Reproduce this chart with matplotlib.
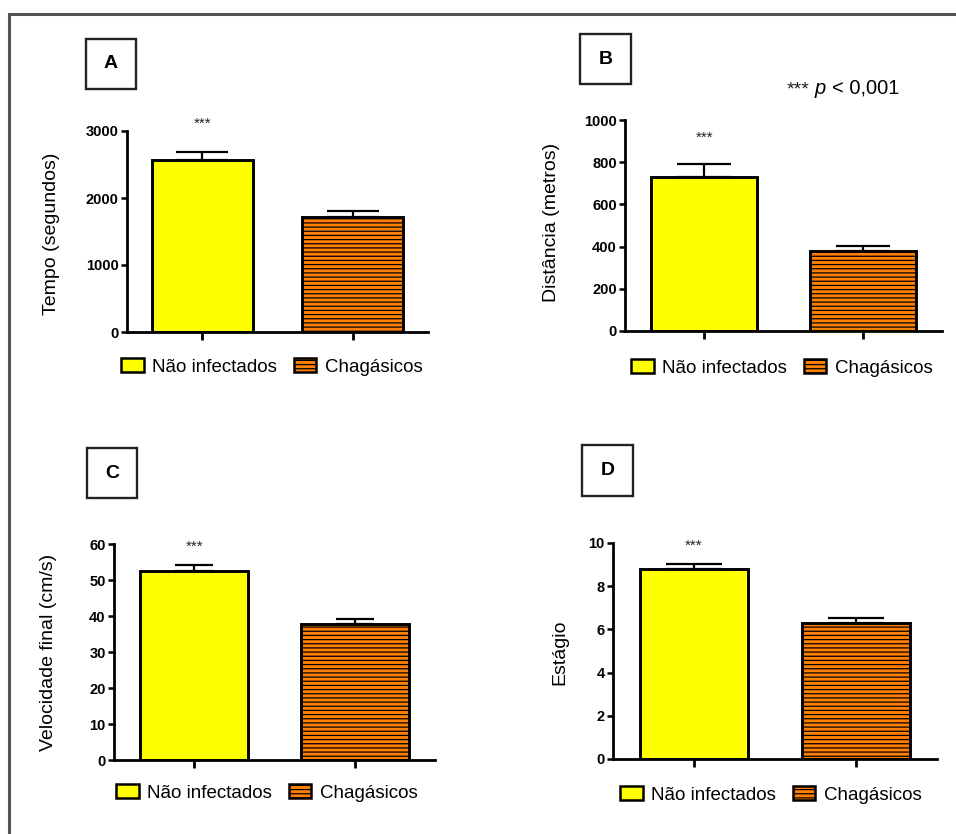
import matplotlib
matplotlib.use("Agg")
import matplotlib.pyplot as plt
from matplotlib.patches import Patch, Rectangle
from matplotlib.lines import Line2D

plt.rcParams['font.family'] = ['Liberation Sans', 'DejaVu Sans']
plt.rcParams['hatch.linewidth'] = 0.9

# ---------------- data ----------------
groups = ['Não infectados', 'Chagásicos']
panel_letters = ['A', 'B', 'C', 'D']
ylabels = ['Tempo (segundos)', 'Distância (metros)', 'Velocidade final (cm/s)', 'Estágio']

tempo_mean = [2570, 1715]
tempo_sem = [120, 90]
dist_mean = [730, 380]
dist_sem = [60, 25]
vel_mean = [52.6, 37.7]
vel_sem = [1.5, 1.5]
est_mean = [8.8, 6.3]
est_sem = [0.22, 0.25]

yticks_A = [0, 1000, 2000, 3000]
yticks_B = [0, 200, 400, 600, 800, 1000]
yticks_C = [0, 10, 20, 30, 40, 50, 60]
yticks_D = [0, 2, 4, 6, 8, 10]

signif = ['***', '']
pvalue_text = '< 0,001'

means = [tempo_mean, dist_mean, vel_mean, est_mean]
sems = [tempo_sem, dist_sem, vel_sem, est_sem]
yticks = [yticks_A, yticks_B, yticks_C, yticks_D]

# ---------------- layout (pixels) ----------------
W, H = 956, 834
fig = plt.figure(figsize=(W / 100, H / 100), dpi=100)
fig.patch.set_facecolor('white')

def fx(x):
    return x / W

def fy(y):
    return 1 - y / H

# axes boxes: left, right, top, bottom (pixels)
ax_boxes = [(127, 428, 131, 332), (625, 942, 120, 331),
            (114, 435, 544, 760), (613, 937, 543, 759)]
letter_boxes = [(86, 136, 39, 89), (580, 631, 34, 84),
                (87, 137, 448, 498), (582, 633, 445, 496)]
ylabel_pos = [(52, 234), (552, 222), (49, 652), (560, 652)]
legend_pos = [(121, 367), (631, 368), (116, 793), (620, 795)]
capsizes = [18.4, 19.4, 13.8, 20.0]
star_offsets = [20, 19, 13, 13]

colors = ['#FFFF00', '#FF8000']
hatches = [None, '----']

for i in range(4):
    l, r, t, b = ax_boxes[i]
    ax = fig.add_axes([fx(l), fy(b), (r - l) / W, (b - t) / H])
    x = [0, 1]
    for j in range(2):
        ax.bar(x[j], means[i][j], width=0.67, color=colors[j], edgecolor='black',
               linewidth=2.1, hatch=hatches[j], zorder=3)
        ax.errorbar(x[j], means[i][j], yerr=[[0], [sems[i][j]]], fmt='none',
                    ecolor='black', elinewidth=1.6, capsize=capsizes[i],
                    capthick=1.6, zorder=2)
        if signif[j]:
            ax.annotate(signif[j], xy=(x[j], means[i][j] + sems[i][j]),
                        xytext=(0, star_offsets[i]), textcoords='offset points',
                        ha='center', va='center', fontsize=11, color='#222222')
    ax.set_xlim(-0.5, 1.5)
    ax.set_ylim(0, yticks[i][-1])
    ax.set_yticks(yticks[i])
    ax.set_yticklabels([str(v) for v in yticks[i]], fontweight='bold', fontsize=10.5)
    ax.set_xticks(x)
    ax.set_xticklabels([])
    for s in ['top', 'right']:
        ax.spines[s].set_visible(False)
    for s in ['left', 'bottom']:
        ax.spines[s].set_linewidth(2.0)
    ax.spines['left'].set_zorder(4)
    ax.spines['bottom'].set_zorder(4)
    ax.tick_params(axis='y', direction='out', length=4.5, width=1.8, pad=1.5)
    ax.tick_params(axis='x', direction='out', length=6, width=2.0)
    ax.patch.set_alpha(0)

    # y label
    fig.text(fx(ylabel_pos[i][0]), fy(ylabel_pos[i][1]), ylabels[i], rotation=90,
             ha='center', va='center', fontsize=14)

    # letter box
    bl, br, bt, bb = letter_boxes[i]
    fig.patches.append(Rectangle((fx(bl), fy(bb)), (br - bl) / W, (bb - bt) / H,
                                 transform=fig.transFigure, fill=False,
                                 edgecolor='#222222', linewidth=1.7))
    fig.text(fx((bl + br) / 2), fy((bt + bb) / 2), panel_letters[i], ha='center',
             va='center', fontsize=14, fontweight='bold')

    # legend
    handles = [Patch(facecolor=colors[j], edgecolor='black', linewidth=1.8,
                     hatch=hatches[j], label=groups[j]) for j in range(2)]
    lx, ly = legend_pos[i]
    fig.legend(handles=handles, loc='center left', bbox_to_anchor=(fx(lx), fy(ly)),
               bbox_transform=fig.transFigure, ncol=2, frameon=False, fontsize=13.5,
               handlelength=1.2, handleheight=0.75, handletextpad=0.45,
               columnspacing=0.9, borderpad=0, borderaxespad=0)

# p-value note
fig.text(fx(787), fy(94), '***', fontsize=14, ha='left', va='baseline', color='#222222')
fig.text(fx(815), fy(94), 'p', fontsize=14.5, style='italic', ha='left', va='baseline')
fig.text(fx(832), fy(94), pvalue_text, fontsize=14.5, ha='left', va='baseline')

# outer frame (top and left edges)
fig.add_artist(Line2D([fx(8.5), fx(W)], [fy(13.5), fy(13.5)], transform=fig.transFigure,
                      color='#555555', linewidth=2.2))
fig.add_artist(Line2D([fx(8.5), fx(8.5)], [fy(13.5), fy(H)], transform=fig.transFigure,
                      color='#555555', linewidth=2.2))

fig.savefig('out.png', dpi=100, facecolor='white')
